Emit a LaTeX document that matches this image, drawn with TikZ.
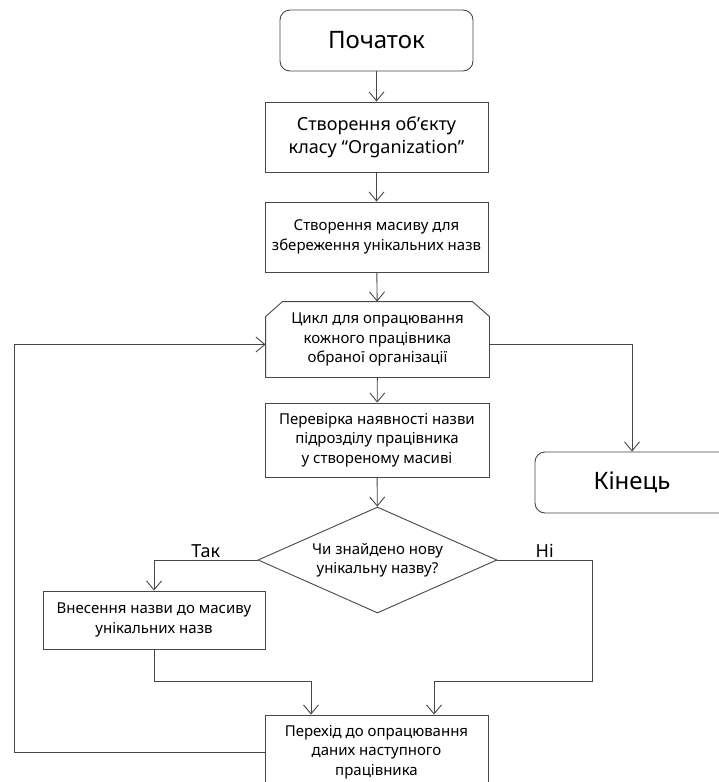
\documentclass[tikz,border=0pt]{standalone}
\usepackage{fontspec}
\setmainfont{Noto Sans}
\usetikzlibrary{arrows.meta,shapes.geometric,calc}

\begin{document}
\begin{tikzpicture}[x=1pt,y=-1pt,
  line/.style={draw=black!72, line width=0.9pt},
  arr/.style={line, -{Straight Barb[length=9pt,width=15pt,line width=0.9pt]}},
  box/.style={line, rectangle, align=center, inner sep=2pt, fill=white,
    font=\fontsize{15}{19.5}\selectfont},
  term/.style={box, rounded corners=10pt, font=\fontsize{24}{28}\selectfont},
  lbl/.style={font=\fontsize{18}{22}\selectfont, inner sep=2pt}
]
\useasboundingbox (0,0) rectangle (719,782);
\clip (0,0) rectangle (719,782);

% main column
\node[term, minimum width=193pt, minimum height=61pt] (start) at (376.5,40.5) {Початок};
\node[box, minimum width=223pt, minimum height=70pt, font=\fontsize{18}{23}\selectfont]
  (obj) at (376.5,137) {Створення об’єкту\\класу “Organization”};
\node[box, minimum width=223pt, minimum height=70pt] (mas) at (376.5,237)
  {Створення масиву для\\збереження унікальних назв};

% loop header: rectangle with chamfered top corners
\node[box, draw=none, fill=none, minimum width=223pt, minimum height=75pt] (loop) at (377.5,339.5)
  {Цикл для опрацювання\\кожного працівника\\обраної організації};
\draw[line] (loop.south west) -- ([yshift=-15pt]loop.north west) -- ([xshift=17pt]loop.north west)
  -- ([xshift=-17pt]loop.north east) -- ([yshift=-15pt]loop.north east) -- (loop.south east) -- cycle;

\node[box, minimum width=224pt, minimum height=74pt] (chk) at (377,440)
  {Перевірка наявності назви\\підрозділу працівника\\у створеному масиві};
\node[line, diamond, aspect=2.25, inner sep=0pt, minimum width=239pt, minimum height=106pt,
  align=center, font=\fontsize{15}{19.5}\selectfont] (dec) at (377.5,560)
  {Чи знайдено нову\\унікальну назву?};
\node[box, minimum width=222pt, minimum height=58pt] (ins) at (154,620)
  {Внесення назви до масиву\\унікальних назв};
\node[box, minimum width=223pt, minimum height=74pt] (next) at (376.5,752)
  {Перехід до опрацювання\\даних наступного\\працівника};
\node[term, minimum width=194pt, minimum height=61pt] (fin) at (632,482.5) {Кінець};

% routing helpers
\coordinate (joinY) at (0,681);
\coordinate (backX) at (14,0);
\coordinate (noX) at (592,0);
\coordinate (inR) at ([xshift=57.5pt]next.north);
\coordinate (inL) at ([xshift=-65.5pt]next.north);
\coordinate (loopIn) at ([yshift=-5pt]loop.west);
\coordinate (loopOut) at ([yshift=-5pt]loop.east);

% connectors
\draw[arr] (start) -- (obj);
\draw[arr] (obj) -- (mas);
\draw[arr] (mas) -- (loop);
\draw[arr] (loop) -- (chk);
\draw[arr] (chk) -- (dec);
\draw[arr] (dec.west) -| node[lbl, pos=0.25, above] {Так} (ins.north);
\draw[arr] (dec.east) -- node[lbl, above] {Ні} (noX |- dec.east) |- (inR |- joinY) -- (inR);
\draw[arr] (ins.south) |- (inL |- joinY) -- (inL);
\draw[arr] (next.west) -| (backX |- loopIn) -- (loopIn);
\draw[arr] (loopOut) -| (fin.north);
\end{tikzpicture}
\end{document}
